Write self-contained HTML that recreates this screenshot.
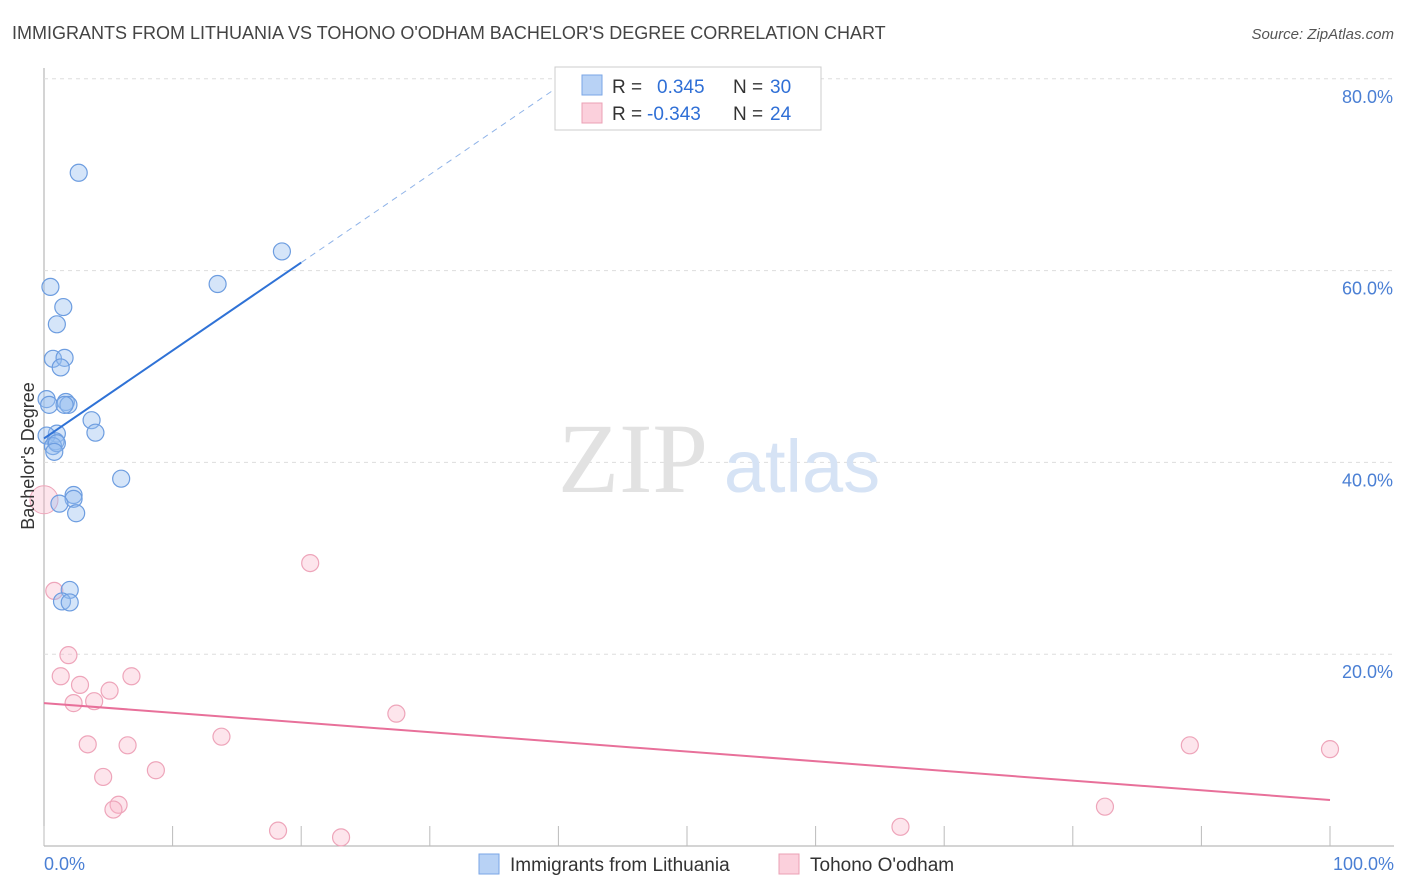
<!DOCTYPE html>
<html><head><meta charset="utf-8"><style>
body{margin:0;background:#fff;font-family:"Liberation Sans",sans-serif}
svg{display:block}
</style></head><body>
<svg id="chart" width="1406" height="892">
<text x="12" y="39" font-size="18" fill="#444">IMMIGRANTS FROM LITHUANIA VS TOHONO O'ODHAM BACHELOR'S DEGREE CORRELATION CHART</text>
<text x="1394" y="39" font-size="15" fill="#555" font-style="italic" text-anchor="end">Source: ZipAtlas.com</text>
<g id="grid"></g>
<text x="633" y="492" font-size="100" fill="#e2e2e2" font-family="Liberation Serif" text-anchor="middle">ZIP</text>
<text x="802" y="492" font-size="74" fill="#d6e3f5" text-anchor="middle">atlas</text>
<g id="marks"></g>
<text transform="translate(34,456) rotate(-90)" font-size="18" fill="#333" text-anchor="middle">Bachelor's Degree</text>
<text x="44" y="870" font-size="18" fill="#4a7fd4">0.0%</text>
<text x="1394" y="870" font-size="18" fill="#4a7fd4" text-anchor="end">100.0%</text>
<g>
<rect x="555" y="67" width="266" height="63" fill="#fff" stroke="#ccc"/>
<rect x="582" y="75" width="20" height="20" fill="#b8d2f5" stroke="#7aa6e6"/>
<rect x="582" y="103" width="20" height="20" fill="#fbd0dc" stroke="#eba0b5"/>
<text x="612" y="93" font-size="19" fill="#333">R = <tspan x="657" fill="#2f6fd6">0.345</tspan><tspan x="733" fill="#333">N = </tspan><tspan x="770" fill="#2f6fd6">30</tspan></text>
<text x="612" y="120" font-size="19" fill="#333">R = <tspan x="647" fill="#2f6fd6">-0.343</tspan><tspan x="733" fill="#333">N = </tspan><tspan x="770" fill="#2f6fd6">24</tspan></text>
</g>
<g>
<rect x="479" y="854" width="20" height="20" fill="#b8d2f5" stroke="#7aa6e6"/>
<text x="510" y="871" font-size="19" fill="#333">Immigrants from Lithuania</text>
<rect x="779" y="854" width="20" height="20" fill="#fbd0dc" stroke="#eba0b5"/>
<text x="810" y="871" font-size="19" fill="#333">Tohono O'odham</text>
</g>
</svg>
<script>
const yTicks=[20,40,60,80];
const xTicks=[0,10,20,30,40,50,60,70,80,90,100];
const blueX=[2.7,18.5,13.5,0.5,1.5,1.0,0.7,1.6,1.3,0.2,0.4,1.7,1.9,1.6,3.7,4.0,1.0,0.2,0.9,0.7,1.0,0.8,6.0,2.3,2.3,1.2,2.5,2.0,1.4,2.0];
const blueY=[70.2,62.0,58.6,58.3,56.2,54.4,50.8,50.9,49.9,46.6,46.0,46.3,46.0,46.0,44.4,43.1,43.0,42.8,42.2,41.7,42.0,41.1,38.3,36.6,36.2,35.7,34.7,26.7,25.5,25.4];
const pinkX=[0.8,1.9,1.3,6.8,2.8,5.1,2.3,3.9,20.7,27.4,3.4,6.5,13.8,4.6,8.7,5.8,5.4,18.2,23.1,66.6,82.5,89.1,100];
const pinkY=[26.6,19.9,17.7,17.7,16.8,16.2,14.9,15.1,29.5,13.8,10.6,10.5,11.4,7.2,7.9,4.3,3.8,1.6,0.9,2.0,4.1,10.5,10.1];
const pinkBig=[[0,36.1]];
const blueTrend=[42.5,0.917];
const pinkTrend=[14.9,-0.101];
const X=v=>44+v*12.86, Y=v=>846-v*9.59;
const NS='http://www.w3.org/2000/svg';
const grid=document.getElementById('grid'), marks=document.getElementById('marks');
function mk(p,tag,a){const e=document.createElementNS(NS,tag);for(const k in a)e.setAttribute(k,a[k]);p.appendChild(e);return e;}
let ax=mk(grid,'line',{x1:44,y1:68,x2:44,y2:846,stroke:'#aaa'});


let bx=mk(grid,'line',{x1:44,y1:846,x2:1394,y2:846,stroke:'#aaa'});


yTicks.forEach(t=>{
 let g=mk(grid,'line',{x1:44,x2:1394,y1:Y(t),y2:Y(t),stroke:'#ddd','stroke-dasharray':'4,4'});
 
 
 let l=mk(grid,'text',{x:1393,y:Y(t)+24,'font-size':18,fill:'#4a7fd4','text-anchor':'end'});
 l.textContent=t.toFixed(1)+'%';
 
 
});
xTicks.forEach(t=>{
 let g=mk(grid,'line',{x1:X(t),x2:X(t),y1:826,y2:846,stroke:'#bbb'});
 
 
});
pinkX.forEach((v,i)=>{
 let c=mk(marks,'circle',{cx:X(v),cy:Y(pinkY[i]),r:8.5,fill:'rgba(248,180,200,0.35)',stroke:'#eea5ba','stroke-width':1.2});
 
 
});
pinkBig.forEach(p=>{
 let c=mk(marks,'circle',{cx:X(p[0]),cy:Y(p[1]),r:14,fill:'rgba(248,180,200,0.35)',stroke:'#eea5ba','stroke-width':1});
 
 
});
blueX.forEach((v,i)=>{
 let c=mk(marks,'circle',{cx:X(v),cy:Y(blueY[i]),r:8.5,fill:'rgba(150,190,240,0.4)',stroke:'#6d9de0','stroke-width':1.2});
 
 
});
let bl=mk(marks,'line',{x1:X(0),y1:Y(blueTrend[0]),x2:X(20),y2:Y(blueTrend[0]+20*blueTrend[1]),stroke:'#2f72d6','stroke-width':2});


let bd=mk(marks,'line',{x1:X(20),y1:Y(blueTrend[0]+20*blueTrend[1]),x2:X(41),y2:Y(blueTrend[0]+41*blueTrend[1]),stroke:'#8fb3e8','stroke-width':1,'stroke-dasharray':'6,5'});


let pl=mk(marks,'line',{x1:X(0),y1:Y(pinkTrend[0]),x2:X(100),y2:Y(pinkTrend[0]+100*pinkTrend[1]),stroke:'#e8709a','stroke-width':2});


</script>
</body></html>
